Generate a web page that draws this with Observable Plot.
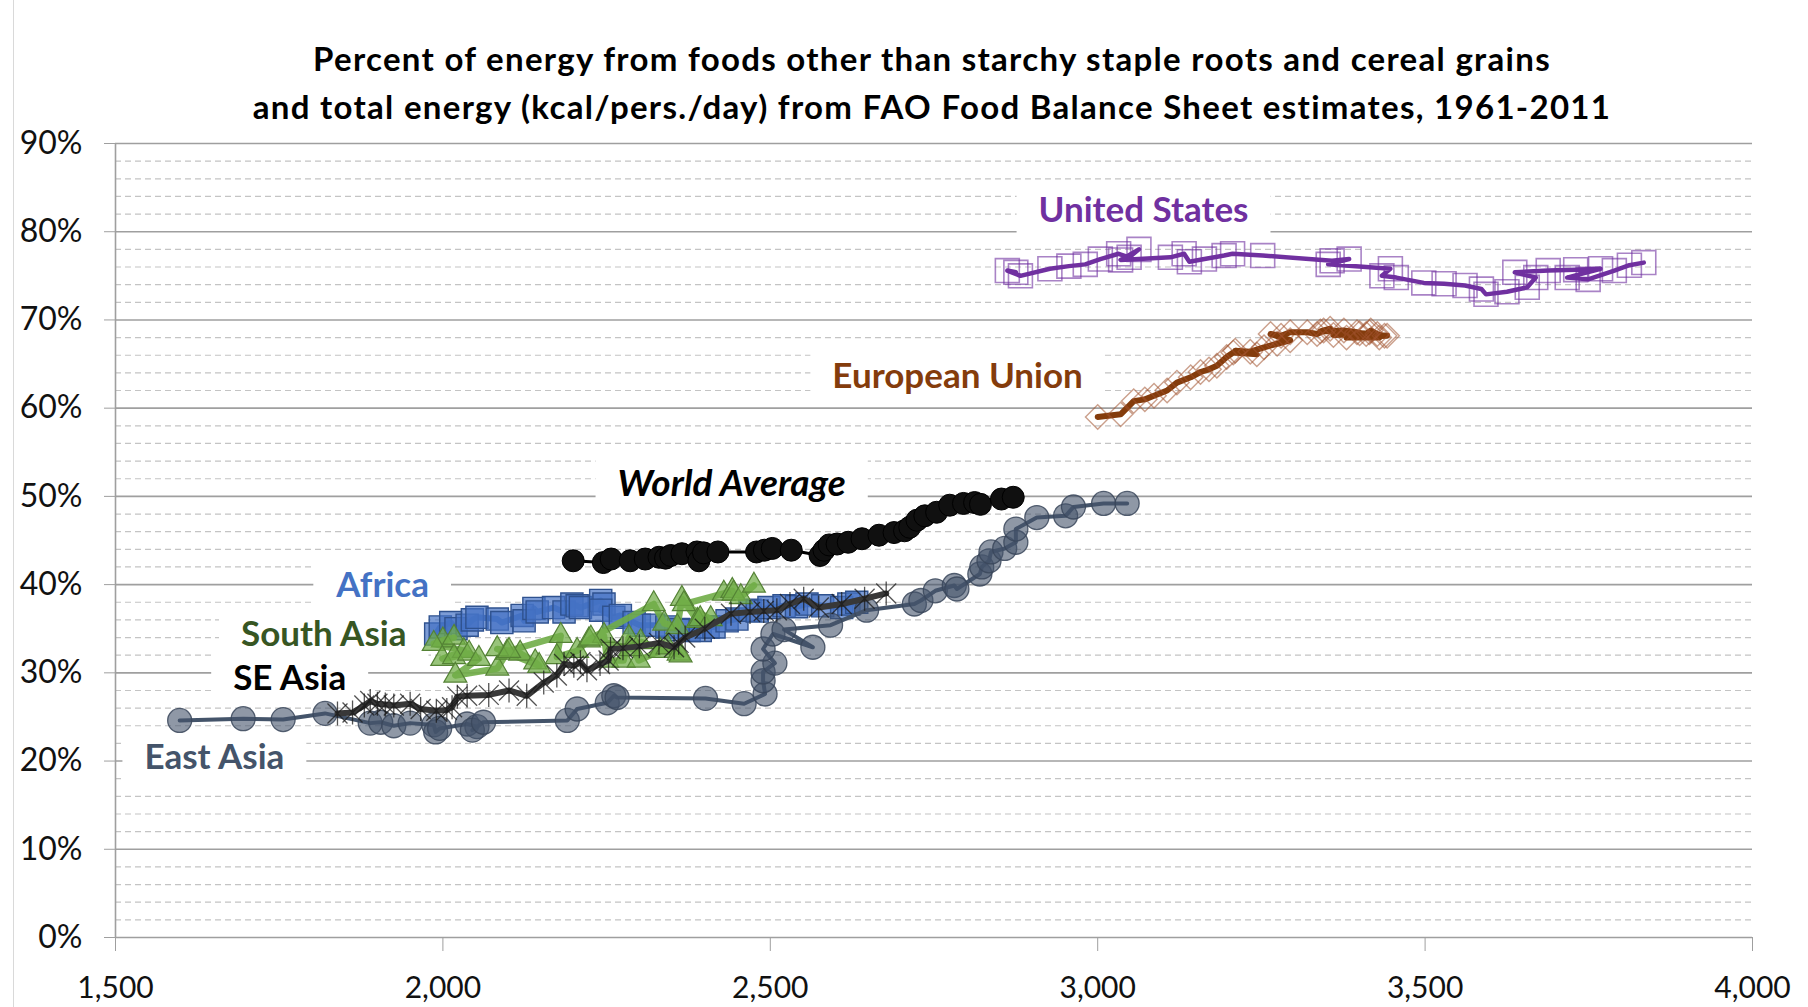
<!DOCTYPE html>
<html>
<head>
<meta charset="utf-8">
<script src="https://cdn.jsdelivr.net/npm/d3@7"></script>
<script src="https://cdn.jsdelivr.net/npm/@observablehq/plot@0.6"></script>
<style>
  body { margin: 0; background: #fff; font-family: Lato, sans-serif; }
  #wrap { position: relative; width: 1808px; height: 1007px; overflow: hidden; background: #fff; }
  #border { position: absolute; left: 13px; top: 0; width: 1px; height: 1007px; background: #d9d9d9; }
  #title { height: 120px; box-sizing: border-box; padding-top: 34px; padding-left: 56px; text-align: center;
           font: bold 33px/48px Lato, sans-serif; letter-spacing: 1.3px; color: #000; white-space: nowrap; }
</style>
</head>
<body>
<div id="wrap">
  <div id="border"></div>
  <div id="title">Percent of energy from foods other than starchy staple roots and cereal grains<br>and total energy (kcal/pers./day) from FAO Food Balance Sheet estimates, 1961-2011</div>
  <div id="chart"></div>
</div>
<script>
// ---- axis ticks ----
const xTicks = [1500, 2000, 2500, 3000, 3500, 4000];
const yTicks = [0, 10, 20, 30, 40, 50, 60, 70, 80, 90];
const yMinor = [2,4,6,8,12,14,16,18,22,24,26,28,32,34,36,38,42,44,46,48,52,54,56,58,62,64,66,68,72,74,76,78,82,84,86,88];

// ---- series: [kcal/pers./day, % energy from non-staples] ----
const unitedStates = [[2875,75.4],[2862,75.6],[2882,75.0],[2927,75.8],[2956,76.1],[2981,76.3],[3004,76.9],[3032,77.5],[3048,77.1],[3063,78.0],[3035,76.8],[3111,77.1],[3132,77.5],[3140,76.6],[3163,76.9],[3193,77.3],[3206,77.5],[3252,77.3],[3358,76.7],[3384,76.9],[3352,76.3],[3447,75.8],[3434,75.0],[3456,74.8],[3498,74.2],[3529,74.1],[3561,73.9],[3586,73.5],[3593,72.9],[3625,73.2],[3656,73.7],[3669,74.8],[3637,75.4],[3688,75.6],[3730,75.7],[3768,75.8],[3717,74.8],[3749,74.6],[3789,75.6],[3812,76.2],[3834,76.5]];

const europeanUnion = [[3000,59.0],[3035,59.3],[3055,60.8],[3072,61.0],[3086,61.4],[3106,62.0],[3121,62.9],[3142,63.5],[3157,64.1],[3170,64.4],[3182,64.8],[3197,65.8],[3207,66.3],[3243,66.1],[3210,66.5],[3233,66.4],[3254,66.9],[3274,67.3],[3294,67.7],[3264,68.4],[3280,68.2],[3294,68.6],[3320,68.6],[3335,68.4],[3345,68.8],[3355,69.0],[3340,68.7],[3376,68.8],[3396,68.6],[3360,68.3],[3410,68.4],[3417,68.8],[3427,68.4],[3400,68.5],[3442,68.2],[3380,68.0],[3430,68.0],[3415,68.6],[3438,68.2]];

const worldAverage = [[2199,42.7],[2245,42.5],[2257,42.9],[2286,42.7],[2309,42.9],[2330,43.1],[2340,43.0],[2348,43.3],[2365,43.5],[2388,43.7],[2391,42.7],[2398,43.6],[2420,43.7],[2479,43.7],[2491,43.9],[2503,44.1],[2532,43.9],[2576,43.3],[2582,43.9],[2590,44.5],[2602,44.6],[2619,44.8],[2640,45.2],[2666,45.6],[2689,45.9],[2705,46.1],[2713,46.5],[2724,47.3],[2736,47.8],[2754,48.2],[2774,49.0],[2795,49.2],[2812,49.3],[2821,49.1],[2853,49.7],[2871,49.9]];

const africa = [[1989,34.4],[1996,35.2],[2012,35.7],[2020,35.0],[2037,35.4],[2045,36.0],[2052,36.3],[2083,36.1],[2090,35.7],[2121,36.5],[2124,35.9],[2139,37.3],[2144,36.9],[2169,37.4],[2185,36.9],[2197,37.8],[2205,37.6],[2210,37.4],[2241,38.2],[2246,37.8],[2241,37.1],[2261,36.3],[2271,36.5],[2292,35.7],[2300,35.4],[2322,35.4],[2342,35.2],[2360,34.9],[2376,34.8],[2393,34.8],[2405,35.2],[2414,35.2],[2434,35.9],[2449,36.1],[2469,37.1],[2480,37.0],[2498,37.4],[2521,37.6],[2540,37.5],[2556,37.8],[2580,37.6],[2609,37.4],[2620,37.8],[2632,38.0]];

const southAsia = [[2000,33.7],[2017,34.0],[1986,33.3],[2032,32.5],[1999,31.6],[2017,31.8],[2040,32.2],[2055,31.6],[2019,29.7],[2083,30.5],[2098,32.3],[2118,32.2],[2141,31.2],[2147,30.8],[2083,32.7],[2101,32.5],[2180,34.2],[2174,31.8],[2205,32.5],[2223,33.7],[2246,34.2],[2251,31.4],[2276,31.4],[2284,34.0],[2299,31.4],[2332,32.5],[2343,32.9],[2360,32.2],[2363,32.0],[2302,33.5],[2286,32.7],[2226,33.9],[2322,37.8],[2338,35.6],[2358,35.2],[2365,38.4],[2389,35.9],[2393,36.1],[2409,36.1],[2368,37.8],[2429,39.0],[2442,39.3],[2444,39.0],[2455,38.6],[2475,39.9]];

const eastAsia = [[1598,24.6],[1695,24.8],[1756,24.7],[1820,25.4],[1889,24.3],[1905,24.4],[1925,24.0],[1950,24.3],[1986,24.1],[1989,23.3],[1995,23.7],[2037,24.2],[2052,23.9],[2045,23.5],[2062,24.4],[2190,24.6],[2205,25.9],[2251,26.6],[2261,27.4],[2266,27.2],[2401,27.1],[2460,26.5],[2492,27.6],[2489,29.1],[2489,30.1],[2507,31.1],[2489,32.7],[2504,34.4],[2565,32.9],[2521,34.9],[2592,35.4],[2647,37.1],[2720,37.8],[2730,38.2],[2752,39.3],[2781,39.9],[2785,39.5],[2820,41.2],[2823,42.0],[2834,42.7],[2837,43.7],[2858,44.1],[2875,44.8],[2875,46.3],[2907,47.6],[2951,47.8],[2963,48.8],[3009,49.2],[3045,49.2]];

const seAsia = [[1839,25.4],[1862,25.5],[1880,26.3],[1889,26.8],[1900,26.5],[1912,26.4],[1925,26.3],[1950,26.5],[1966,25.9],[1990,25.7],[2006,25.8],[2014,26.1],[2022,27.3],[2037,27.4],[2070,27.5],[2101,28.0],[2128,27.4],[2154,28.9],[2174,29.7],[2185,31.0],[2200,30.8],[2210,31.2],[2220,30.3],[2240,31.0],[2253,31.4],[2256,32.7],[2275,32.8],[2300,33.0],[2330,33.4],[2353,32.9],[2360,33.4],[2370,34.0],[2400,35.0],[2440,36.7],[2469,36.9],[2490,37.0],[2510,37.1],[2530,37.8],[2551,38.4],[2574,37.4],[2609,37.8],[2644,38.4],[2677,39.0]];

// ---- series labels (data coordinates) ----
const labelNames = ["United States", "European Union", "World Average", "Africa", "South Asia", "SE Asia", "East Asia"];
const labelKcal  = [3070, 2786, 2441, 1908, 1818, 1766, 1651];
const labelPct   = [82.4, 63.6, 51.4, 39.9, 34.3, 29.3, 20.4];

// ---- rendering ----
const colors = {
  "United States": "#7030A0", "European Union": "#843C0C", "World Average": "#000000",
  "Africa": "#4472C4", "South Asia": "#375623", "SE Asia": "#000000", "East Asia": "#44546A"
};
const toRows = arr => arr.map(([k, p]) => ({kcal: k, pct: p}));
const labels = labelNames.map((n, i) => ({name: n, kcal: labelKcal[i], pct: labelPct[i]}));
const italic = new Set(["World Average"]);

const excelStar = {
  draw(ctx, size) {
    const r = Math.sqrt(size / Math.PI);
    ctx.moveTo(-r, -r); ctx.lineTo(r, r);
    ctx.moveTo(-r, r); ctx.lineTo(r, -r);
    ctx.moveTo(0, -r * 1.2); ctx.lineTo(0, r * 1.2);
  }
};

const XY = {x: "kcal", y: "pct"};

const chart = Plot.plot({
  width: 1808, height: 887,
  marginTop: 23, marginBottom: 70, marginLeft: 115, marginRight: 56,
  x: {domain: [1500, 4000]},
  y: {domain: [0, 90]},
  color: {type: "identity"},
  style: {fontFamily: "Lato, sans-serif", fontSize: "30px", color: "#111", background: "transparent", overflow: "visible"},
  marks: [
    Plot.ruleY(yMinor, {stroke: "#c4c4c4", strokeWidth: 1.2, strokeDasharray: "6,4"}),
    Plot.ruleY(yTicks, {stroke: "#9f9f9f", strokeWidth: 1.6}),
    Plot.ruleX([1500], {stroke: "#9f9f9f", strokeWidth: 1.6}),
    Plot.axisY({ticks: yTicks, tickFormat: d => d + "%", tickSize: 11, tickPadding: 22, stroke: "#9f9f9f", fill: "#111", fontSize: 32, label: null}),
    Plot.axisX({ticks: xTicks, tickFormat: d3.format(","), tickSize: 14, tickPadding: 25, stroke: "#9f9f9f", fill: "#111", fontSize: 30, label: null}),
    // series labels (boxes inserted behind them after render)
    Plot.text(labels.filter(d => !italic.has(d.name)), {x: "kcal", y: "pct", text: "name", fill: d => colors[d.name], fontSize: 35, fontWeight: "bold"}),
    Plot.text(labels.filter(d => italic.has(d.name)), {x: "kcal", y: "pct", text: "name", fill: d => colors[d.name], fontSize: 37, fontWeight: "bold", fontStyle: "italic"}),
    // United States
    Plot.line(toRows(unitedStates), {...XY, stroke: "#7030A0", strokeWidth: 4.5}),
    Plot.dot(toRows(unitedStates), {...XY, symbol: "square", r: 13.5, fill: "none", stroke: "#7030A0", strokeOpacity: 0.6, strokeWidth: 1.6}),
    // European Union
    Plot.line(toRows(europeanUnion), {...XY, stroke: "#843C0C", strokeWidth: 6}),
    Plot.dot(toRows(europeanUnion), {...XY, symbol: "diamond2", r: 11, fill: "none", stroke: "#A0522D", strokeOpacity: 0.55, strokeWidth: 1.4}),
    // World Average
    Plot.line(toRows(worldAverage), {...XY, stroke: "#000", strokeWidth: 3}),
    Plot.dot(toRows(worldAverage), {...XY, r: 11, fill: "#101010", stroke: "#000", strokeWidth: 1}),
    // Africa
    Plot.line(toRows(africa), {...XY, stroke: "#4472C4", strokeWidth: 6}),
    Plot.dot(toRows(africa), {...XY, symbol: "square", r: 12.5, fill: "#4472C4", fillOpacity: 0.7, stroke: "#2F528F", strokeWidth: 1.4}),
    // South Asia
    Plot.line(toRows(southAsia), {...XY, stroke: "#70AD47", strokeOpacity: 0.9, strokeWidth: 6.5}),
    Plot.dot(toRows(southAsia), {...XY, symbol: "triangle", r: 8.5, fill: "#70AD47", fillOpacity: 0.72, stroke: "#548235", strokeWidth: 1.2}),
    // East Asia
    Plot.line(toRows(eastAsia), {...XY, stroke: "#44546A", strokeWidth: 4}),
    Plot.dot(toRows(eastAsia), {...XY, r: 12, fill: "#44546A", fillOpacity: 0.6, stroke: "#3A475A", strokeOpacity: 0.85, strokeWidth: 1.3}),
    // SE Asia
    Plot.line(toRows(seAsia), {...XY, stroke: "#383838", strokeWidth: 6}),
    Plot.dot(toRows(seAsia), {...XY, symbol: excelStar, r: 10, fill: "none", stroke: "#1a1a1a", strokeOpacity: 0.75, strokeWidth: 1.3})
  ]
});

document.getElementById("chart").append(chart);

// white boxes behind the series labels (hide gridlines like the original text boxes)
const names = new Set(labelNames);
chart.querySelectorAll("text").forEach(t => {
  if (!names.has(t.textContent)) return;
  const b = t.getBBox();
  const r = document.createElementNS("http://www.w3.org/2000/svg", "rect");
  r.setAttribute("x", b.x - 22);
  r.setAttribute("y", b.y - 6);
  r.setAttribute("width", b.width + 44);
  r.setAttribute("height", b.height + 12);
  r.setAttribute("fill", "#fff");
  r.setAttribute("stroke", "none");
  if (t.getAttribute("transform")) r.setAttribute("transform", t.getAttribute("transform"));
  t.parentNode.insertBefore(r, t);
});
</script>
</body>
</html>
